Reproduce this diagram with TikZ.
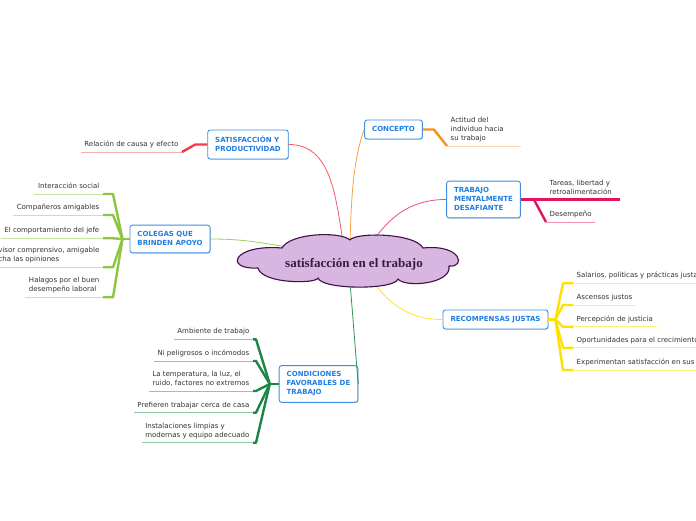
\documentclass[tikz,border=0pt]{standalone}
\usepackage{fontspec}
\setmainfont{DejaVu Sans}
\newfontfamily\titlefont{Liberation Serif}
\usepackage{tikz}
\usetikzlibrary{shadows}
\definecolor{mapink}{HTML}{333333}
\definecolor{topicblue}{HTML}{1F7EE3}
\definecolor{topicbd}{HTML}{3D8FE6}
\definecolor{cloudfill}{HTML}{D9B5E1}
\definecolor{cloudbd}{HTML}{3C1340}
\definecolor{rootink}{HTML}{3A1A42}
\definecolor{redbr}{HTML}{F23B4B}
\definecolor{redlt}{HTML}{F8AEB4}
\definecolor{orangebr}{HTML}{F7901E}
\definecolor{orangelt}{HTML}{FBD6AE}
\definecolor{pinkbr}{HTML}{E0145F}
\definecolor{pinklt}{HTML}{F28FB4}
\definecolor{yellowbr}{HTML}{FFE100}
\definecolor{yellowlt}{HTML}{FFF07A}
\definecolor{limebr}{HTML}{8CC63F}
\definecolor{limelt}{HTML}{C8E3A3}
\definecolor{greenbr}{HTML}{1A8744}
\definecolor{greenlt}{HTML}{93C7A6}
\tikzset{
  topicbox/.style={draw=topicbd, fill=white, rounded corners=2.5pt, line width=0.9pt, align=left,
    inner xsep=7.5pt, inner ysep=6pt, text depth=1.5pt, minimum height=19pt,
    font=\fontsize{7}{9}\selectfont\bfseries, text=topicblue,
    drop shadow={shadow xshift=0.6pt, shadow yshift=-0.8pt, opacity=0.3, fill=black!60}},
  leaf/.style={align=left, inner xsep=3.5pt, inner ysep=3pt, text depth=2.2pt,
    font=\fontsize{7}{9}\selectfont, text=mapink},
  leafr/.style={leaf, anchor=south west},
  leafl/.style={leaf, anchor=south east},
  twig/.style={draw=#1, line width=2.4pt, line join=round},
  rib/.style={draw=#1, line width=0.9pt},
  link/.style={draw=#1, line width=0.8pt},
  cloudline/.style={draw=cloudbd, fill=cloudfill, line width=1.1pt, line join=round},
  roottext/.style={font=\titlefont\bfseries\fontsize{13}{15}\selectfont, text=rootink}
}
\begin{document}
\begin{tikzpicture}[x=1pt, y=1pt]
\fill[white] (0,0) rectangle (696,520);
\useasboundingbox (0,0) rectangle (696,520);
\coordinate (c-sat) at (343,279); \coordinate (c-con) at (350,278); \coordinate (c-tra) at (373,279);
\coordinate (c-rec) at (372,240); \coordinate (c-cond) at (350,237); \coordinate (c-col) at (292,272);

\node[topicbox] (sat) at (248,375.5) {SATISFACCIÓN Y\\PRODUCTIVIDAD};
\node[topicbox] (concepto) at (393.5,390.5) {CONCEPTO};
\node[topicbox] (trabajo) at (483.5,320.5) {TRABAJO\\MENTALMENTE\\DESAFIANTE};
\node[topicbox] (recomp) at (495.5,200.5) {RECOMPENSAS JUSTAS};
\node[topicbox] (condic) at (318.5,136) {CONDICIONES\\FAVORABLES DE\\TRABAJO};
\node[topicbox] (colegas) at (170,281) {COLEGAS QUE\\BRINDEN APOYO};

\node[leafl] (causa) at (182,368) {Relación de causa y efecto};
\node[leafr] (actitud) at (447,374) {Actitud del\\individuo hacia\\su trabajo};
\node[leafr] (tareas) at (546,320.5) {Tareas, libertad y\\retroalimentación};
\node[leafr] (desempeno) at (546,298) {Desempeño};
\node[leafr] (salarios) at (573,236.7) {Salarios, políticas y prácticas justas};
\node[leafr] (ascensos) at (573,215) {Ascensos justos};
\node[leafr] (percepcion) at (573,193.3) {Percepción de justicia};
\node[leafr] (oportunidades) at (573,172.3) {Oportunidades para el crecimiento};
\node[leafr] (experimentan) at (573,150) {Experimentan satisfacción en sus};
\node[leafl] (interaccion) at (103,326) {Interacción social};
\node[leafl] (companeros) at (103,305) {Compañeros amigables};
\node[leafl] (comportamiento) at (103,281.7) {El comportamiento del jefe};
\node[leafl] (supervisor) at (103,252.7) {Un supervisor comprensivo, amigable\\que escucha las opiniones};
\node[leafl] (halagos) at (103,222.7) {Halagos por el buen\\desempeño laboral};
\node[leafl] (ambiente) at (253,180.7) {Ambiente de trabajo};
\node[leafl] (peligrosos) at (253,159) {Ni peligrosos o incómodos};
\node[leafl] (temperatura) at (253,129) {La temperatura, la luz, el\\ruido, factores no extremos};
\node[leafl] (prefieren) at (253,107.3) {Prefieren trabajar cerca de casa};
\node[leafl] (instalaciones) at (253,77.3) {Instalaciones limpias y\\modernas y equipo adecuado};

\draw[rib=redlt] (causa.south west) -- (causa.south east);
\draw[twig=redbr] (sat.west) -- ++(-12,0) -- (causa.south east);
\draw[rib=orangelt] (actitud.south west) -- ([xshift=14pt]actitud.south east);
\draw[twig=orangebr] (concepto.east) -- ++(11,0) -- (actitud.south west);
\draw[rib=pinklt] (desempeno.south west) -- (desempeno.south east);
\draw[twig=pinkbr] (trabajo.east) -- ++(13,0) coordinate (tjoint) -- (tareas.south west) -- ([xshift=5pt]tareas.south east);
\draw[twig=pinkbr] (tjoint) -- (desempeno.south west);

\draw[rib=yellowlt] (salarios.south west) -- (salarios.south east); \draw[rib=yellowlt] (ascensos.south west) -- (ascensos.south east);
\draw[rib=yellowlt] (percepcion.south west) -- (percepcion.south east); \draw[rib=yellowlt] (oportunidades.south west) -- (oportunidades.south east);
\draw[rib=yellowlt] (experimentan.south west) -- (experimentan.south east);
\draw[twig=yellowbr] (recomp.east) -- ++(7,0) coordinate (rjoint);
\draw[twig=yellowbr] (rjoint) -- ([xshift=-10pt]salarios.south west) -- (salarios.south west);
\draw[twig=yellowbr] (rjoint) -- ([xshift=-10pt]ascensos.south west) -- (ascensos.south west);
\draw[twig=yellowbr] (rjoint) -- ([xshift=-10pt]percepcion.south west) -- (percepcion.south west);
\draw[twig=yellowbr] (rjoint) -- ([xshift=-10pt]oportunidades.south west) -- (oportunidades.south west);
\draw[twig=yellowbr] (rjoint) -- ([xshift=-10pt]experimentan.south west) -- (experimentan.south west);

\draw[rib=limelt] (interaccion.south west) -- (interaccion.south east); \draw[rib=limelt] (companeros.south west) -- (companeros.south east);
\draw[rib=limelt] (comportamiento.south west) -- (comportamiento.south east); \draw[rib=limelt] (supervisor.south west) -- (supervisor.south east);
\draw[rib=limelt] (halagos.south west) -- (halagos.south east);
\draw[twig=limebr] (colegas.west) -- ++(-7,0) coordinate (cjoint);
\draw[twig=limebr] (cjoint) -- ([xshift=10pt]interaccion.south east) -- (interaccion.south east);
\draw[twig=limebr] (cjoint) -- ([xshift=10pt]companeros.south east) -- (companeros.south east);
\draw[twig=limebr] (cjoint) -- ([xshift=10pt]comportamiento.south east) -- (comportamiento.south east);
\draw[twig=limebr] (cjoint) -- ([xshift=10pt]supervisor.south east) -- (supervisor.south east);
\draw[twig=limebr] (cjoint) -- ([xshift=10pt]halagos.south east) -- (halagos.south east);

\draw[rib=greenlt] (ambiente.south west) -- (ambiente.south east); \draw[rib=greenlt] (peligrosos.south west) -- (peligrosos.south east);
\draw[rib=greenlt] (temperatura.south west) -- (temperatura.south east); \draw[rib=greenlt] (prefieren.south west) -- (prefieren.south east);
\draw[rib=greenlt] (instalaciones.south west) -- (instalaciones.south east);
\draw[twig=greenbr] (condic.west) -- ++(-9,0) coordinate (kjoint);
\draw[twig=greenbr] (kjoint) -- ([xshift=3pt]ambiente.south east) -- (ambiente.south east);
\draw[twig=greenbr] (kjoint) -- ([xshift=3pt]peligrosos.south east) -- (peligrosos.south east);
\draw[twig=greenbr] (kjoint) -- ([xshift=3pt]temperatura.south east) -- (temperatura.south east);
\draw[twig=greenbr] (kjoint) -- ([xshift=3pt]prefieren.south east) -- (prefieren.south east);
\draw[twig=greenbr] (kjoint) -- ([xshift=3pt]instalaciones.south east) -- (instalaciones.south east);

\draw[link=redbr!85] (sat.east) to[out=0, in=100] (c-sat);
\draw[link=orangebr!85] (concepto.west) to[out=250, in=88, looseness=0.8] (c-con);
\draw[link=pinkbr!75] (trabajo.west) to[out=180, in=55] (c-tra);
\draw[link=yellowbr!85] (recomp.west) to[out=180, in=-55] (c-rec);
\draw[link=greenbr!90] (condic.east) to[out=95, in=-85] (c-cond);
\draw[link=limebr!85] (colegas.east) to[out=0, in=170] (c-col);

\draw[cloudline] (282,272) .. controls (290,287) and (340,289) .. (350,280)
  .. controls (356,288) and (415,287) .. (423,272)
  .. controls (462,276) and (466,252) .. (449,254)
  .. controls (452,236) and (405,232) .. (398,241)
  .. controls (395,230) and (322,230) .. (318,242)
  .. controls (316,236) and (262,236) .. (258,252)
  .. controls (224,250) and (232,276) .. (282,272) -- cycle;
\node[roottext] (root) at (354,256) {satisfacción en el trabajo};
\end{tikzpicture}
\end{document}
